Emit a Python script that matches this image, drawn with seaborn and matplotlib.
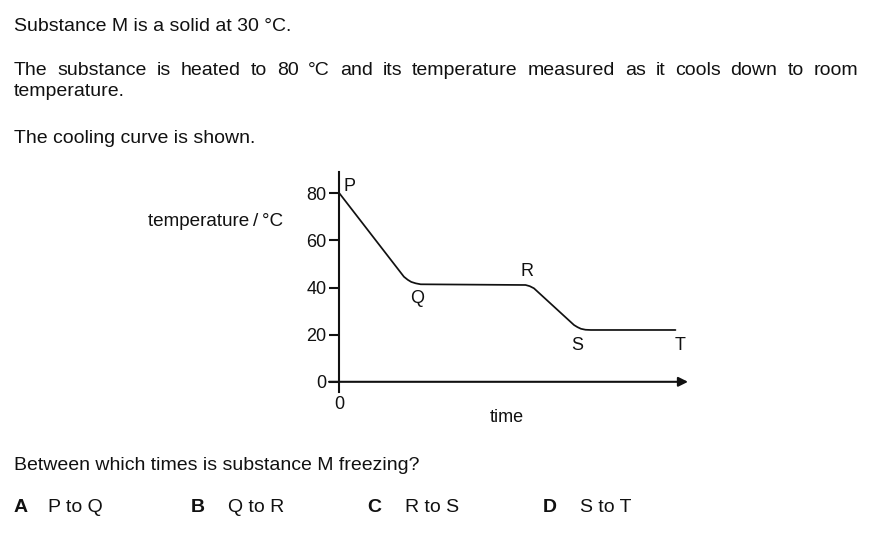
import matplotlib
matplotlib.use("Agg")
import matplotlib.pyplot as plt
import seaborn as sns

# cooling curve
time = [0, 18.5, 19.6, 20.6, 21.9, 23.3, 53.4, 54.6, 55.8, 67.3, 68.3, 69.3, 70.6, 72.1, 96.4]
temp = [80, 44.6, 43.3, 42.4, 41.8, 41.4, 41.1, 40.6, 39.7, 24.1, 23.2, 22.5, 22.1, 22.0, 22.0]
y_ticks = [0, 20, 40, 60, 80]
point_names = ["P", "Q", "R", "S", "T"]
point_x = [1.2, 22.4, 53.9, 68.3, 97.6]
point_y = [83, 35.5, 47, 15.6, 15.6]

intro = "Substance M is a solid at 30 °C."
para = ("The substance is heated to 80 °C and its temperature measured "
        "as it cools down to room")
para_end = "temperature."
shown = "The cooling curve is shown."
question = "Between which times is substance M freezing?"
opt_letters = ["A", "B", "C", "D"]
opt_texts = ["P to Q", "Q to R", "R to S", "S to T"]

sns.set_style("white")
plt.rcParams["font.family"] = ["Liberation Sans", "DejaVu Sans"]
ink = "#111111"

W, H = 876, 534
fig = plt.figure(figsize=(W / 100, H / 100), dpi=100)
ax = fig.add_axes([329 / W, 1 - 391.7 / H, 359 / W, 220 / H])

sns.lineplot(x=time, y=temp, ax=ax, color=ink, linewidth=1.25)
ax.set_xlim(-3, 100)
ax.set_ylim(-4.2, 89.2)

for s in ["top", "right", "bottom"]:
    ax.spines[s].set_visible(False)
ax.spines["left"].set_position(("data", 0))
ax.spines["left"].set_linewidth(1.5)
ax.spines["left"].set_color(ink)

chart_fs = 13
ax.set_yticks(y_ticks)
ax.set_xticks([0])
ax.tick_params(axis="y", direction="out", length=7.2, width=1.5, color=ink,
               labelsize=chart_fs, labelcolor=ink, pad=2, left=True)
ax.tick_params(axis="x", length=0, labelsize=chart_fs, labelcolor=ink, pad=3)

# x axis with arrow head
ax.annotate("", xy=(100, 0), xytext=(-3, 0),
            arrowprops=dict(arrowstyle="-|>", color=ink, lw=1.5, mutation_scale=14,
                            shrinkA=0, shrinkB=0),
            annotation_clip=False)

for name, px, py in zip(point_names, point_x, point_y):
    ax.text(px, py, name, fontsize=chart_fs, color=ink, va="center",
            ha="left" if name == "P" else "center")

ax.text(47.9, -15, "time", fontsize=chart_fs, color=ink, ha="center", va="center")
fig.text(283 / W, 1 - 221.5 / H, "temperature\u2009/\u2009°C", fontsize=13.6,
         color=ink, ha="right", va="center")


def fy(py):
    return 1 - py / H


body = 14
fig.text(14 / W, fy(30.7), intro, fontsize=body, color=ink, va="baseline")

# justified second line
renderer = fig.canvas.get_renderer()
words = para.split()
items = [fig.text(0, fy(75), w, fontsize=body, color=ink, va="baseline") for w in words]
widths = [t.get_window_extent(renderer).width for t in items]
gap = (858 - 14 - sum(widths)) / (len(words) - 1)
x = 14
for t, w in zip(items, widths):
    t.set_x(x / W)
    x += w + gap

fig.text(14 / W, fy(96), para_end, fontsize=body, color=ink, va="baseline")
fig.text(14 / W, fy(143), shown, fontsize=body, color=ink, va="baseline")
fig.text(14 / W, fy(470), question, fontsize=body, color=ink, va="baseline")

letter_x = [14, 191, 367, 543]
text_x = [48, 228, 405, 580]
for lx, tx, l, t in zip(letter_x, text_x, opt_letters, opt_texts):
    fig.text(lx / W, fy(512), l, fontsize=body, color=ink, va="baseline",
             fontweight="bold")
    fig.text(tx / W, fy(512), t, fontsize=body, color=ink, va="baseline")

fig.savefig("out.png", dpi=100, facecolor="white")
